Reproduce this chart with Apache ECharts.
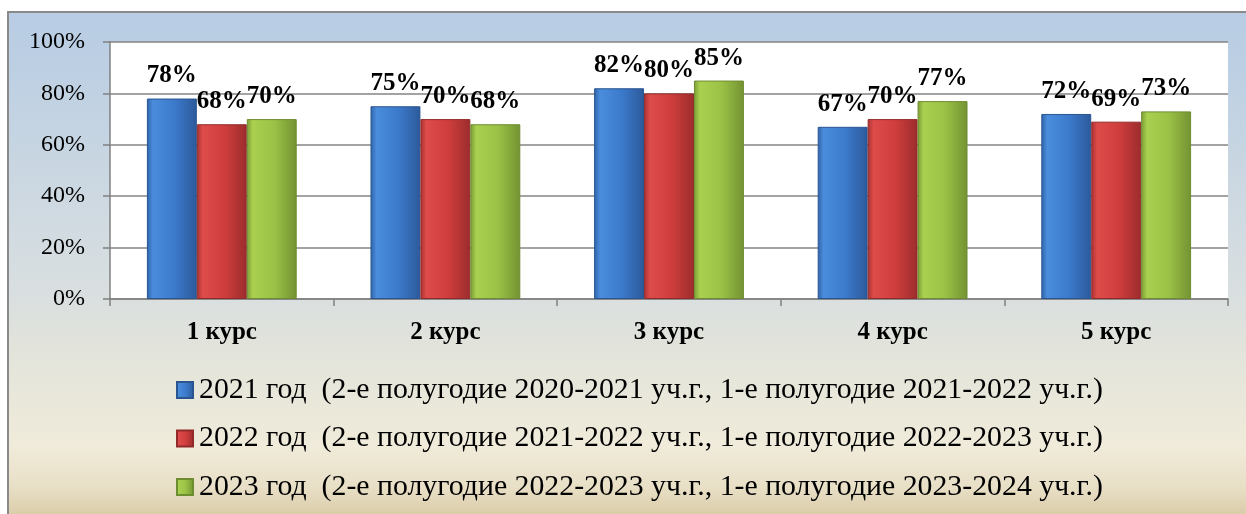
<!DOCTYPE html>
<html>
<head>
<meta charset="utf-8">
<script src="https://cdn.jsdelivr.net/npm/echarts@6/dist/echarts.min.js"></script>
<style>
html,body{margin:0;padding:0;background:#fff;}
#c{width:1246px;height:514px;}
</style>
</head>
<body>
<div id="c"></div>
<script>
const categories = ['1 курс', '2 курс', '3 курс', '4 курс', '5 курс'];
const seriesNames = [
  '2021 год  (2-е полугодие 2020-2021 уч.г., 1-е полугодие 2021-2022 уч.г.)',
  '2022 год  (2-е полугодие 2021-2022 уч.г., 1-е полугодие 2022-2023 уч.г.)',
  '2023 год  (2-е полугодие 2022-2023 уч.г., 1-е полугодие 2023-2024 уч.г.)'
];
const values2021 = [78, 75, 82, 67, 72];
const values2022 = [68, 70, 80, 70, 69];
const values2023 = [70, 68, 85, 77, 73];
const yTicks = [0, 20, 40, 60, 80, 100];

const FONT = '"Liberation Serif", "Times New Roman", serif';

function hGrad(c0, c1, c2, c3) {
  return new echarts.graphic.LinearGradient(0, 0, 1, 0, [
    {offset: 0, color: c0},
    {offset: 0.12, color: c1},
    {offset: 0.55, color: c2},
    {offset: 1, color: c3}
  ]);
}
const colors = [
  hGrad('#2f62a8', '#4a8ddc', '#3c7acc', '#2c5a9a'),
  hGrad('#a83232', '#de4c4a', '#cf3e3d', '#9c2c2c'),
  hGrad('#7c9c34', '#aad050', '#9bc246', '#739232')
];
const borderColors = ['#2a5590', '#922a2a', '#6e8c30'];

function mk(name, data, i) {
  return {
    name: name,
    type: 'bar',
    data: data,
    barGap: '0%',
    barCategoryGap: '33%',
    itemStyle: { color: colors[i], borderColor: borderColors[i], borderWidth: 1 },
    label: {
      show: true,
      position: 'top',
      distance: 10,
      formatter: '{c}%',
      fontFamily: FONT,
      fontSize: 25,
      fontWeight: 'bold',
      color: '#000'
    }
  };
}

const chart = echarts.init(document.getElementById('c'));
chart.setOption({
  animation: false,
  textStyle: { fontFamily: FONT },
  graphic: [{
    type: 'rect',
    z: -100,
    silent: true,
    shape: { x: 8, y: 12, width: 1250, height: 510 },
    style: {
      fill: new echarts.graphic.LinearGradient(0, 0, 0, 1, [
        {offset: 0, color: '#b8cce4'},
        {offset: 0.1, color: '#bccfe3'},
        {offset: 0.55, color: '#d9dfe0'},
        {offset: 0.65, color: '#e1e3db'},
        {offset: 0.85, color: '#f0ebda'},
        {offset: 0.93, color: '#e8dfc6'},
        {offset: 1, color: '#d6c7a0'}
      ]),
      stroke: '#8a8a8a',
      lineWidth: 2
    }
  }],
  grid: {
    left: 110, right: 18, top: 42, bottom: 215,
    show: true, backgroundColor: '#ffffff', borderWidth: 0
  },
  legend: {
    orient: 'vertical',
    left: 176,
    top: 375,
    padding: 0,
    itemWidth: 16,
    itemHeight: 16,
    itemGap: 18.5,
    icon: 'rect',
    data: seriesNames,
    textStyle: { fontFamily: FONT, fontSize: 29.8, color: '#000', padding: [0, 0, 0, 1] }
  },
  xAxis: {
    type: 'category',
    data: categories,
    axisLine: { lineStyle: { color: '#808080', width: 1.5 } },
    axisTick: { show: true, length: 7, lineStyle: { color: '#808080', width: 1.5 } },
    axisLabel: { margin: 21, fontFamily: FONT, fontSize: 25, fontWeight: 'bold', color: '#000' }
  },
  yAxis: {
    type: 'value',
    min: yTicks[0],
    max: yTicks[yTicks.length - 1],
    interval: 20,
    axisLine: { show: true, lineStyle: { color: '#808080', width: 1.5 } },
    axisTick: { show: true, length: 7, lineStyle: { color: '#808080', width: 1.5 } },
    splitLine: { show: true, lineStyle: { color: '#858585', width: 1.5 } },
    axisLabel: { margin: 25, formatter: '{value}%', fontFamily: FONT, fontSize: 24, color: '#000' }
  },
  series: [
    mk(seriesNames[0], values2021, 0),
    mk(seriesNames[1], values2022, 1),
    mk(seriesNames[2], values2023, 2)
  ]
});
</script>
</body>
</html>
